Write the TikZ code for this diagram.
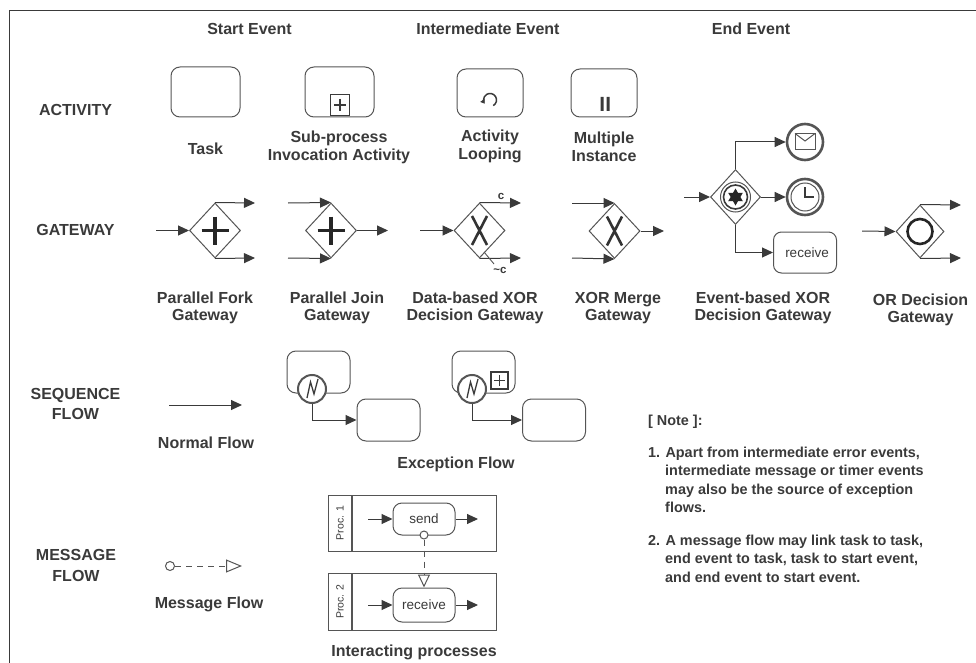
\documentclass[tikz,border=0pt]{standalone}
\usepackage{fontspec}
\setmainfont{Liberation Sans}
\usetikzlibrary{shapes.geometric,arrows.meta}
\definecolor{ink}{HTML}{3A3A3A}
\definecolor{edge}{HTML}{555555}
\tikzset{
  lbl/.style={font=\fontsize{16}{17.7}\selectfont\bfseries,text=ink,align=center,inner sep=0pt},
  notetext/.style={font=\fontsize{14.4}{18.6}\selectfont\bfseries,text=ink,align=left,inner sep=0pt,anchor=north west},
  small/.style={font=\fontsize{11.5}{13}\selectfont\bfseries,text=ink,inner sep=0pt},
  proc/.style={font=\fontsize{10.5}{12}\selectfont,text=ink,inner sep=0pt,rotate=90},
  task/.style={draw=edge,line width=1pt,rounded corners=9pt,rectangle,fill=white,inner sep=0pt},
  gate/.style={diamond,draw=edge,line width=1pt,fill=white,inner sep=0pt},
  flow/.style={draw=ink,line width=1pt,-{Triangle[length=11pt,width=10pt]}},
  msg/.style={draw=edge,line width=1pt,dash pattern=on 6pt off 5pt},
  ring/.style={circle,draw=edge,fill=white,inner sep=0pt},
  subbox/.style={draw=ink,line width=1.1pt,fill=white,inner sep=0pt},
  markstroke/.style={draw=ink,line width=1.1pt},
  bigplus/.style={draw=black!85,line width=3.6pt},
  xor/.style={draw=black!80,line width=2.6pt},
  pool/.style={draw=edge,line width=1pt,fill=white,inner sep=0pt},
  bolt/.style={draw=ink,line width=1.3pt},
}
\begin{document}
\begin{tikzpicture}[x=1pt,y=-1pt]
\useasboundingbox (0,0) rectangle (976,663);
% frame
\draw[draw=ink,line width=1pt] (9,663) -- (9,10.5) -- (976,10.5);
% headings
\node[lbl] (hs) at (249.5,29) {Start Event};
\node[lbl] (hi) at (488,29) {Intermediate Event};
\node[lbl] (he) at (751,29) {End Event};
\node[lbl] (ra) at (75.5,110) {ACTIVITY};
\node[lbl] (rg) at (75.5,230) {GATEWAY};
\node[lbl] (rs) at (75.5,404) {SEQUENCE\\[3pt]FLOW};
\node[lbl] (rm) at (76,565.5) {MESSAGE\\[3pt]FLOW};
% activities
\node[task,minimum width=69pt,minimum height=50pt] (t1) at (205.5,92) {};
\node[task,minimum width=69pt,minimum height=50pt] (t2) at (339.5,92) {};
\node[task,minimum width=66pt,minimum height=48pt] (t3) at (490,93) {};
\node[task,minimum width=66pt,minimum height=48pt] (t4) at (604,93) {};
\node[subbox,minimum width=19pt,minimum height=21pt] (t2m) at (340,105) {};
\draw[markstroke] (334,105) -- (346,105) (340,99) -- (340,111);
\draw[draw=ink,line width=1.5pt,-{Triangle[length=4pt,width=5pt]}] (493.25,105.6) arc[start angle=-60,end angle=215,radius=6.5pt];
\fill[ink] (600.5,97) rectangle (603.5,111) (606.5,97) rectangle (609.5,111);
\node[lbl] (lt1) at (205.5,149) {Task};
\node[lbl] (lt2) at (339,147.5) {Sub-process\\[0pt]Invocation Activity};
\node[lbl] (lt3) at (490,146.5) {Activity\\[0pt]Looping};
\node[lbl] (lt4) at (604,146.5) {Multiple\\[0pt]Instance};
% gateway 1
\coordinate (g1i) at (156,230.5);
\coordinate (g1a) at (255,203);
\coordinate (g1b) at (255,258);
\node[gate,minimum width=51pt,minimum height=55pt] (g1) at (215,230.5) {};
\draw[flow] (g1i) -- (g1.west);
\draw[flow] (g1.north) -- (g1a);
\draw[flow] (g1.south) -- (g1b);
\draw[bigplus] (201.5,230.5) -- (228.5,230.5) (215,216.5) -- (215,244.5);
% gateway 2
\coordinate (g2a) at (288,203);
\coordinate (g2b) at (288,258);
\coordinate (g2o) at (388,230.5);
\node[gate,minimum width=51pt,minimum height=55pt] (g2) at (331,230.5) {};
\draw[flow] (g2a) -- (g2.north);
\draw[flow] (g2b) -- (g2.south);
\draw[flow] (g2.east) -- (g2o);
\draw[bigplus] (317.5,230.5) -- (344.5,230.5) (331,216.5) -- (331,244.5);
% gateway 3
\coordinate (g3i) at (420,230.5);
\coordinate (g3a) at (521,203);
\coordinate (g3b) at (521,258);
\node[gate,minimum width=51pt,minimum height=55pt] (g3) at (479.5,230.5) {};
\draw[flow] (g3i) -- (g3.west);
\draw[flow] (g3.north) -- (g3a);
\draw[flow] (g3.south) -- (g3b);
\draw[xor] (472,216) -- (487,245) (487,216) -- (472,245);
\draw[draw=edge,line width=.9pt] (484,252) -- (494,264);
\node[small] (cc) at (501,196) {c};
\node[small] (nc) at (500,270) {\textasciitilde c};
% gateway 4
\coordinate (g4a) at (572,203);
\coordinate (g4b) at (572,258);
\coordinate (g4o) at (664,231);
\node[gate,minimum width=51pt,minimum height=55pt] (g4) at (614.5,231) {};
\draw[flow] (g4a) -- (g4.north);
\draw[flow] (g4b) -- (g4.south);
\draw[flow] (g4.east) -- (g4o);
\draw[xor] (607,216.5) -- (622,245.5) (622,216.5) -- (607,245.5);
% event based gateway
\coordinate (g5i) at (684,197);
\node[gate,minimum width=50pt,minimum height=55pt] (g5) at (735.5,197) {};
\node[ring,line width=1pt,minimum size=30pt] (g5o) at (735.5,197) {};
\node[ring,draw=ink,line width=1.6pt,minimum size=24pt] (g5r) at (735.5,197) {};
\node[star,star points=6,star point ratio=1.75,fill=black!85,inner sep=0pt,minimum size=17pt] (g5s) at (735.5,197) {};
\node[ring,line width=2.6pt,minimum size=36pt] (e1) at (805,142) {};
\node[ring,line width=2.6pt,minimum size=36pt] (e2) at (805,197) {};
\node[ring,draw=edge,line width=1pt,minimum size=28pt] (e2i) at (805,197) {};
\node[task,rounded corners=8pt,minimum width=63pt,minimum height=41pt,font=\fontsize{13.5}{16}\selectfont,text=ink] (e3) at (805,252.5) {\hspace{4pt}receive};
\draw[draw=edge,line width=1pt] (795,133.5) rectangle (815,150);
\draw[draw=edge,line width=1pt] (795,133.5) -- (805,141) -- (815,133.5);
\draw[draw=ink,line width=1.1pt] (805,187) -- (805,197) -- (814,197);
\draw[flow] (g5i) -- (g5.west);
\draw[flow] (g5.north) |- (e1.west);
\draw[flow] (g5.east) -- (e2.west);
\draw[flow] (g5.south) |- (e3.west);
% OR
\coordinate (g6i) at (862,231);
\coordinate (g6a) at (961,205);
\coordinate (g6b) at (961,258);
\node[gate,minimum width=48pt,minimum height=53pt] (g6) at (920,231.5) {};
\node[circle,draw=black!85,line width=2.6pt,inner sep=0pt,minimum size=25pt] (g6c) at (920,231.5) {};
\draw[flow] (g6i) -- (g6.west);
\draw[flow] (g6.north) -- (g6a);
\draw[flow] (g6.south) -- (g6b);
% gateway labels
\node[lbl] (l1) at (205,308) {Parallel Fork\\[0pt]Gateway};
\node[lbl] (l2) at (337,308) {Parallel Join\\[0pt]Gateway};
\node[lbl] (l3) at (475,308) {Data-based XOR\\[0pt]Decision Gateway};
\node[lbl] (l4) at (618,308) {XOR Merge\\[0pt]Gateway};
\node[lbl] (l5) at (763,308) {Event-based XOR\\[0pt]Decision Gateway};
\node[lbl] (l6) at (920.5,310) {OR Decision\\[0pt]Gateway};
% sequence flow
\coordinate (n1) at (169,405);
\coordinate (n2) at (242,405);
\draw[flow] (n1) -- (n2);
\node[lbl] (ln) at (206,443) {Normal Flow};
\node[task,minimum width=63pt,minimum height=42pt] (x1) at (318.5,372) {};
\node[ring,line width=2pt,minimum size=28pt] (x1e) at (312,389) {};
\draw[bolt] (307,398) -- (310.5,382) -- (314,394) -- (318,379);
\node[task,minimum width=63pt,minimum height=42pt] (x2) at (388.5,420) {};
\draw[flow] (x1e.south) |- (x2.west);
\node[task,minimum width=63pt,minimum height=42pt] (x3) at (483.5,372) {};
\node[subbox,minimum width=17pt,minimum height=17pt] (x3m) at (499.5,380.5) {};
\draw[markstroke] (494,380.5) -- (505,380.5) (499.5,375) -- (499.5,386);
\node[ring,line width=2pt,minimum size=28pt] (x3e) at (472,389) {};
\draw[bolt] (467,398) -- (470.5,382) -- (474,394) -- (478,379);
\node[task,minimum width=63pt,minimum height=42pt] (x4) at (554,420) {};
\draw[flow] (x3e.south) |- (x4.west);
\node[lbl] (lx) at (456,464) {Exception Flow};
% message flow
\node[circle,draw=edge,line width=1pt,inner sep=0pt,minimum size=9pt] (m1) at (170,566) {};
\coordinate (m2) at (242,566);
\draw[msg,-{Triangle[open,length=16pt,width=13pt,fill=white,line width=1pt]}] (m1) -- (m2);
\node[lbl] (lm) at (209,604) {Message Flow};
% interacting processes
\node[pool,minimum width=168pt,minimum height=56pt] (p1) at (412,523) {};
\node[pool,minimum width=168pt,minimum height=57pt] (p2) at (412,601.5) {};
\draw[draw=edge,line width=1.4pt] (352,495) -- (352,551) (352,573) -- (352,630);
\node[proc] (p1t) at (340,523) {Proc. 1};
\node[proc] (p2t) at (340,601.5) {Proc. 2};
\node[task,minimum width=62pt,minimum height=32pt,font=\fontsize{13.5}{16}\selectfont,text=ink] (ts) at (424,519) {send};
\node[task,minimum width=62pt,minimum height=34pt,font=\fontsize{13.5}{16}\selectfont,text=ink] (tr) at (424,605) {receive};
\coordinate (sa) at (368,519);
\coordinate (sb) at (478,519);
\coordinate (ra2) at (368,605);
\coordinate (rb) at (478,605);
\draw[flow] (sa) -- (ts.west);
\draw[flow] (ts.east) -- (sb);
\draw[flow] (ra2) -- (tr.west);
\draw[flow] (tr.east) -- (rb);
\node[circle,draw=edge,fill=white,line width=1pt,inner sep=0pt,minimum size=8pt] (ms) at (424,535) {};
\draw[msg,-{Triangle[open,length=13pt,width=12pt,fill=white,line width=1pt]}] (ms) -- (tr.north);
\node[lbl] (li) at (414,652) {Interacting processes};
% note
\node[notetext] (nh) at (648,414.5) {[ Note ]:};
\node[notetext] (n1t) at (648,446.5) {1. Apart from intermediate error events,\\
\hspace*{17pt}intermediate message or timer events\\
\hspace*{17pt}may also be the source of exception\\
\hspace*{17pt}flows.};
\node[notetext] (n2t) at (648,534.5) {2. A message flow may link task to task,\\
\hspace*{17pt}end event to task, task to start event,\\
\hspace*{17pt}and end event to start event.};
\end{tikzpicture}
\end{document}
